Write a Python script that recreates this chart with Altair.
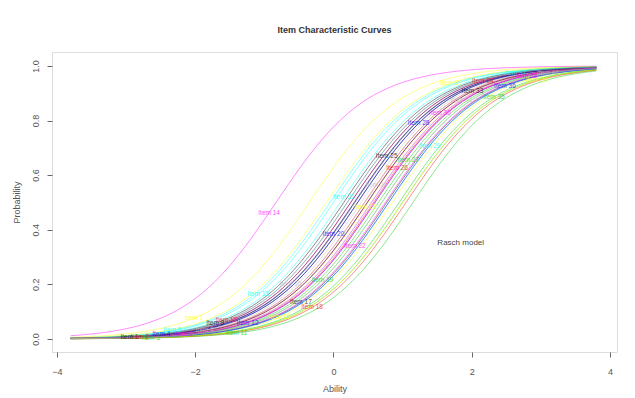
import altair as alt
import numpy as np
import pandas as pd

# Rasch item parameters
items = [f"Item {i}" for i in range(1, 41)]
difficulty = [0.35, 0.45, 1.00, 0.25, -0.05, 0.55, -0.35, 0.40,
              0.15, 0.20, 1.15, 0.60, 0.00, -0.83, 0.85, 0.30,
              0.77, 1.05, 0.70, 0.31, 0.10, 0.75, 0.50, 0.45,
              0.30, 0.58, 0.65, 0.35, 0.80, 0.49, -0.10, 0.55,
              0.49, 0.25, 0.95, 0.80, 0.20, 0.60, 1.00, 0.70]
discrimination = 1.5
label_x = [-2.95, -2.80, -2.64, -2.49, -2.33, -2.17, -2.02, -1.86,
           -1.71, -1.55, -1.40, -1.24, -1.09, -0.93, -0.78, -0.62,
           -0.47, -0.31, -0.16, 0.00, 0.15, 0.31, 0.46, 0.62,
           0.77, 0.92, 1.08, 1.23, 1.39, 1.54, 1.70, 1.85,
           2.01, 2.16, 2.32, 2.48, 2.63, 2.79, 2.94, 3.10]
r_palette = ["#000000", "#FF0000", "#00CD00", "#0000FF",
             "#00FFFF", "#FF00FF", "#FFFF00", "#BEBEBE"]
item_colors = [r_palette[i % 8] for i in range(len(items))]

z = np.linspace(-3.8, 3.8, 100)
rows = []
for name, b in zip(items, difficulty):
    p = 1 / (1 + np.exp(-discrimination * (z - b)))
    for zi, pi in zip(z, p):
        rows.append({"item": name, "Ability": zi, "Probability": pi})
curves = pd.DataFrame(rows)

lab = pd.DataFrame({
    "item": items,
    "Ability": label_x,
    "Probability": [1 / (1 + np.exp(-discrimination * (x - b)))
                    for x, b in zip(label_x, difficulty)],
})

xs = alt.Scale(domain=[-4.07, 4.1], nice=False, zero=False)
ys = alt.Scale(domain=[-0.048, 1.051], nice=False, zero=False)
cs = alt.Scale(domain=items, range=item_colors)

lines = alt.Chart(curves).mark_line(strokeWidth=1.0, opacity=0.45).encode(
    x=alt.X("Ability:Q", scale=xs,
            axis=alt.Axis(values=[-4, -2, 0, 2, 4], format="d", title="Ability",
                          grid=False, domain=False, tickSize=5,
                          tickColor="#666", labelColor="#555", labelFontSize=9,
                          labelPadding=10, titleFontSize=9, titleFontWeight="normal",
                          titleColor="#555", titlePadding=8, labelFont="Liberation Sans",
                          titleFont="Liberation Sans")),
    y=alt.Y("Probability:Q", scale=ys,
            axis=alt.Axis(values=[0, 0.2, 0.4, 0.6, 0.8, 1.0], format=".1f",
                          title="Probability", grid=False, domain=False, tickSize=5,
                          tickColor="#666", labelColor="#555", labelFontSize=9,
                          labelAngle=-90, labelAlign="center", labelBaseline="bottom",
                          labelPadding=7, titleFontSize=9, titleFontWeight="normal",
                          titleColor="#555", titlePadding=10, labelFont="Liberation Sans",
                          titleFont="Liberation Sans")),
    color=alt.Color("item:N", scale=cs, legend=None),
    detail="item:N",
)

labels = alt.Chart(lab).mark_text(fontSize=6.5, opacity=0.7, font="Liberation Sans").encode(
    x=alt.X("Ability:Q", scale=xs),
    y=alt.Y("Probability:Q", scale=ys),
    text="item:N",
    color=alt.Color("item:N", scale=cs, legend=None),
)

note = alt.Chart(pd.DataFrame({"x": [1.84], "y": [0.35], "t": ["Rasch model"]})).mark_text(
    fontSize=8, color="#444", font="Liberation Sans").encode(
    x=alt.X("x:Q", scale=xs), y=alt.Y("y:Q", scale=ys), text="t:N")

chart = alt.layer(lines, labels, note).properties(
    width=565, height=300,
    title=alt.TitleParams("Item Characteristic Curves", fontSize=9, fontWeight="bold",
                          color="#333", offset=17, anchor="middle",
                          font="Liberation Sans"),
    padding={"left": 44, "top": 44, "right": 10, "bottom": 46},
    autosize=alt.AutoSizeParams(type="none"),
).configure_view(stroke="#777", strokeWidth=1).configure(background="white")

chart.save("out.html", embed_options={"renderer": "svg", "actions": False})
